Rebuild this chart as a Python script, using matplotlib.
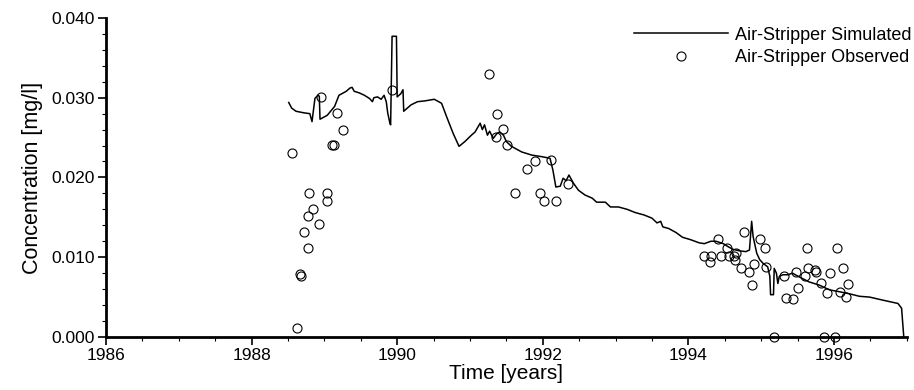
import matplotlib
matplotlib.use("Agg")
from matplotlib import pyplot as plt
from matplotlib.ticker import MultipleLocator, FormatStrFormatter

plt.rcParams["font.family"] = ["Liberation Sans", "DejaVu Sans"]

# simulated air-stripper concentration (line)
sim_t = [1988.51, 1988.55, 1988.61, 1988.72, 1988.80, 1988.83, 1988.87, 1988.91, 1988.93, 1988.94,
         1989.04, 1989.14, 1989.20, 1989.30, 1989.35, 1989.38, 1989.41, 1989.48, 1989.55, 1989.62,
         1989.66, 1989.68, 1989.73, 1989.78, 1989.82, 1989.85, 1989.87, 1989.90, 1989.91, 1989.93,
         1989.99, 1990.00, 1990.05, 1990.08, 1990.09, 1990.19, 1990.28, 1990.38, 1990.51, 1990.61,
         1990.68, 1990.77, 1990.85, 1990.93, 1991.02, 1991.07, 1991.14, 1991.17, 1991.20, 1991.24,
         1991.27, 1991.32, 1991.37, 1991.41, 1991.46, 1991.50, 1991.57, 1991.71, 1991.85, 1991.99,
         1992.10, 1992.14, 1992.18, 1992.24, 1992.28, 1992.32, 1992.36, 1992.42, 1992.49, 1992.58,
         1992.68, 1992.74, 1992.86, 1992.93, 1993.04, 1993.16, 1993.27, 1993.39, 1993.50, 1993.57,
         1993.62, 1993.65, 1993.73, 1993.83, 1993.92, 1994.03, 1994.15, 1994.22, 1994.31, 1994.38,
         1994.48, 1994.55, 1994.61, 1994.70, 1994.79, 1994.84, 1994.87, 1994.89, 1994.94, 1994.98,
         1995.03, 1995.09, 1995.12, 1995.13, 1995.17, 1995.18, 1995.21, 1995.23, 1995.25, 1995.30,
         1995.37, 1995.43, 1995.53, 1995.66, 1995.80, 1995.94, 1996.06, 1996.22, 1996.35, 1996.49,
         1996.68, 1996.88, 1996.93, 1996.96]
sim_c = [0.0294, 0.0287, 0.0283, 0.0281, 0.0280, 0.0270, 0.0299, 0.0303, 0.0302, 0.0273,
         0.0278, 0.0289, 0.0303, 0.0308, 0.0312, 0.0313, 0.0308, 0.0306, 0.0303, 0.0299,
         0.0295, 0.0300, 0.0301, 0.0298, 0.0303, 0.0295, 0.0281, 0.0268, 0.0266, 0.0377,
         0.0377, 0.0301, 0.0305, 0.0310, 0.0283, 0.0291, 0.0295, 0.0296, 0.0298, 0.0293,
         0.0276, 0.0255, 0.0239, 0.0245, 0.0253, 0.0257, 0.0268, 0.0260, 0.0266, 0.0253,
         0.0258, 0.0249, 0.0255, 0.0257, 0.0253, 0.0245, 0.0239, 0.0232, 0.0228, 0.0226,
         0.0224, 0.0209, 0.0188, 0.0189, 0.0199, 0.0196, 0.0203, 0.0193, 0.0184, 0.0178,
         0.0174, 0.0169, 0.0169, 0.0163, 0.0163, 0.0160, 0.0156, 0.0153, 0.0149, 0.0143,
         0.0145, 0.0138, 0.0136, 0.0131, 0.0125, 0.0122, 0.0118, 0.0117, 0.0120, 0.0120,
         0.0117, 0.0113, 0.0110, 0.0108, 0.0107, 0.0109, 0.0145, 0.0126, 0.0105, 0.0097,
         0.0092, 0.0088, 0.0076, 0.0053, 0.0053, 0.0086, 0.0080, 0.0067, 0.0076, 0.0078,
         0.0078, 0.0080, 0.0075, 0.0069, 0.0065, 0.0059, 0.0057, 0.0054, 0.0051, 0.0050,
         0.0046, 0.0042, 0.0036, 0.0000]

# observed samples (open circles)
obs_t = [1988.55, 1988.63, 1988.66, 1988.68, 1988.72, 1988.78, 1988.78, 1988.79, 1988.85, 1988.93,
         1988.96, 1989.03, 1989.04, 1989.11, 1989.13, 1989.18, 1989.26, 1989.93,
         1991.26, 1991.36, 1991.37, 1991.45, 1991.51, 1991.62, 1991.78, 1991.89, 1991.96, 1992.02,
         1992.11, 1992.18, 1992.35,
         1994.21, 1994.30, 1994.31, 1994.41, 1994.45, 1994.53, 1994.56, 1994.63, 1994.64, 1994.66,
         1994.73, 1994.76, 1994.83, 1994.87, 1994.90, 1994.99, 1995.05, 1995.07, 1995.18, 1995.31,
         1995.34, 1995.44, 1995.48, 1995.51, 1995.60, 1995.63, 1995.64, 1995.74, 1995.76, 1995.82,
         1995.87, 1995.90, 1995.94, 1996.01, 1996.04, 1996.08, 1996.13, 1996.16, 1996.19]
obs_c = [0.0231, 0.0011, 0.0079, 0.0077, 0.0131, 0.0111, 0.0152, 0.0181, 0.0161, 0.0142,
         0.0301, 0.0171, 0.0181, 0.0241, 0.0241, 0.0281, 0.0260, 0.0310,
         0.0330, 0.0251, 0.0280, 0.0261, 0.0241, 0.0181, 0.0211, 0.0221, 0.0181, 0.0171,
         0.0222, 0.0171, 0.0192,
         0.0102, 0.0094, 0.0102, 0.0123, 0.0102, 0.0111, 0.0102, 0.0101, 0.0097, 0.0105,
         0.0087, 0.0132, 0.0081, 0.0065, 0.0092, 0.0123, 0.0112, 0.0088, 0.0000, 0.0076,
         0.0049, 0.0047, 0.0081, 0.0062, 0.0076, 0.0112, 0.0087, 0.0084, 0.0082, 0.0068,
         0.0000, 0.0055, 0.0080, 0.0000, 0.0111, 0.0056, 0.0086, 0.0050, 0.0066]

fig = plt.figure(figsize=(9.14, 3.9), dpi=100)
ax = fig.add_axes([0.116, 0.136, 0.876, 0.818])

ax.plot(sim_t, sim_c, color="black", lw=1.1, label="Air-Stripper Simulated")
ax.plot(obs_t, obs_c, ls="none", marker="o", ms=6.5, mfc="none", mec="black", mew=0.8,
        clip_on=False, zorder=5, label="Air-Stripper Observed")

ax.set_xlim(1986, 1997)
ax.set_ylim(0, 0.040)
ax.xaxis.set_major_locator(MultipleLocator(2))
ax.xaxis.set_minor_locator(MultipleLocator(0.5))
ax.yaxis.set_major_locator(MultipleLocator(0.01))
ax.yaxis.set_minor_locator(MultipleLocator(0.002))
ax.yaxis.set_major_formatter(FormatStrFormatter("%.3f"))

for s in ["top", "right"]:
    ax.spines[s].set_visible(False)
for s in ["left", "bottom"]:
    ax.spines[s].set_linewidth(2)
ax.tick_params(which="major", length=6, width=1.2, labelsize=12.5, pad=2)
ax.tick_params(which="minor", length=3, width=0.8)

ax.set_xlabel("Time [years]", fontsize=15, labelpad=1)
ax.set_ylabel("Concentration [mg/l]", fontsize=15.5, labelpad=6)

ax.legend(loc="upper right", bbox_to_anchor=(1.005, 0.95), bbox_transform=fig.transFigure,
          frameon=False, fontsize=13, handlelength=5.2, handletextpad=0.4,
          labelspacing=0.3, borderaxespad=0.0)

fig.savefig("out.png", dpi=100)
